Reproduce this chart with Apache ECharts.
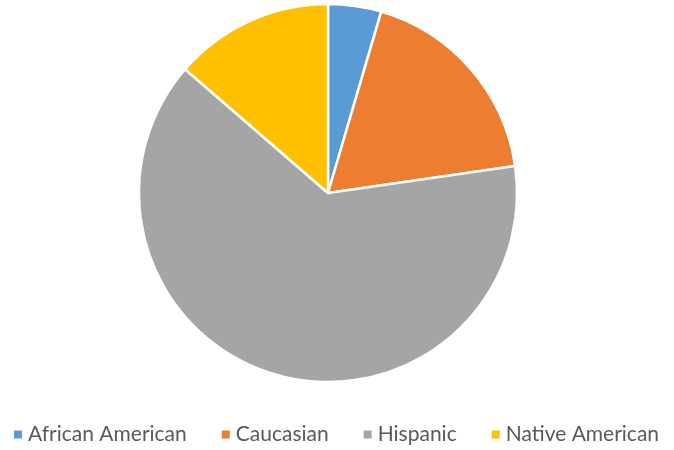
<!DOCTYPE html>
<html>
<head>
<meta charset="utf-8">
<script src="https://cdn.jsdelivr.net/npm/echarts@6/dist/echarts.min.js"></script>
<style>
  html, body { margin: 0; padding: 0; background: #fff; }
  #chart { width: 674px; height: 450px; }
</style>
</head>
<body>
<div id="chart"></div>
<script>
// categories and counts
const groups = ["African American", "Caucasian", "Hispanic", "Native American"];
const counts = [1, 4, 14, 3];
const colors = ["#5B9BD5", "#ED7D31", "#A5A5A5", "#FFC000"];

const chart = echarts.init(document.getElementById("chart"));

chart.setOption({
  animation: false,
  color: colors,
  legend: {
    data: groups,
    top: 424,
    left: 12,
    width: 662,
    padding: 0,
    icon: "rect",
    itemWidth: 10,
    itemHeight: 10,
    itemGap: 33,
    itemTextGap: 7,
    textStyle: { fontFamily: "Lato", fontSize: 21, color: "#595959" }
  },
  series: [{
    type: "pie",
    center: [328, 193],
    radius: 189,
    startAngle: 90,
    clockwise: true,
    label: { show: false },
    labelLine: { show: false },
    itemStyle: { borderColor: "#fff", borderWidth: 2.5 },
    data: groups.map((g, i) => ({ name: g, value: counts[i] }))
  }]
});
</script>
</body>
</html>
